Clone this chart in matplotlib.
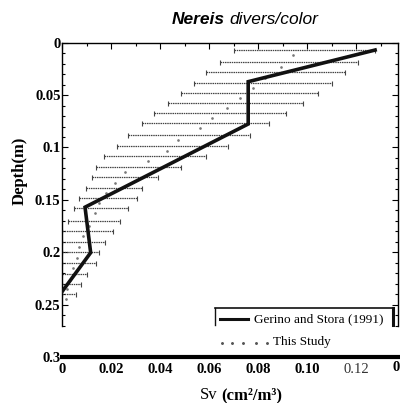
import matplotlib
matplotlib.use("Agg")
import matplotlib.pyplot as plt
from matplotlib.ticker import MultipleLocator, FixedLocator
import numpy as np

# ---- data ----
# Gerino and Stora (1991) profile
gs_sv = [0.1278, 0.0760, 0.0760, 0.0094, 0.0117, 0.0]
gs_depth = [0.007, 0.0372, 0.0776, 0.157, 0.2004, 0.2377]

# This Study: row depths, left / right ends of ranges, and mean markers
ts_depth = [0.007, 0.0181, 0.0283, 0.0382, 0.0477, 0.0573, 0.0668, 0.0764,
            0.0881, 0.0986, 0.1082, 0.1184, 0.1285, 0.1384, 0.1479, 0.1575,
            0.1701, 0.1794, 0.1899, 0.2001, 0.2100, 0.2211, 0.2303, 0.2399]
ts_low = [0.0702, 0.0645, 0.0588, 0.0540, 0.0484, 0.0434, 0.0377, 0.0325,
          0.0271, 0.0223, 0.0173, 0.0139, 0.0124, 0.0097, 0.0069, 0.0049,
          0.0026, 0.0, 0.0, 0.0, 0.0, 0.0, 0.0, 0.0]
ts_high = [0.1278, 0.1210, 0.1155, 0.1103, 0.1044, 0.0985, 0.0914, 0.0846,
           0.0767, 0.0679, 0.0588, 0.0484, 0.0393, 0.0325, 0.0307, 0.0271,
           0.0237, 0.0210, 0.0176, 0.0152, 0.0137, 0.0101, 0.0076, 0.0056]
ts_mean = [0.0943, 0.0893, 0.0830, 0.0781, 0.0727, 0.0672, 0.0611, 0.0563,
           0.0475, 0.0427, 0.0352, 0.0257, 0.0216, 0.0180, 0.0150, 0.0135,
           0.0110, 0.0087, 0.0070, 0.0060, 0.0046, 0.0033, 0.0020, 0.0015]

x_ticks = [0, 0.02, 0.04, 0.06, 0.08, 0.10, 0.12]
x_labels = ["0", "0.02", "0.04", "0.06", "0.08", "0.10", "0.12"]
y_ticks = [0, 0.05, 0.1, 0.15, 0.2, 0.25, 0.3]
y_labels = ["0", "0.05", "0.1", "0.15", "0.2", "0.25", "0.3"]

serif = ["Liberation Serif", "DejaVu Serif"]
sans = ["Liberation Sans", "DejaVu Sans"]

fig = plt.figure(figsize=(4.0, 4.03), dpi=100)
ax = fig.add_axes([62/400, 1-357/403, (398-62)/400, (357-42.7)/403])

# This Study ranges
ts_mean_a = np.array(ts_mean)
ts_depth_a = np.array(ts_depth)
err = ax.errorbar(ts_mean_a, ts_depth_a,
                  xerr=[ts_mean_a - np.array(ts_low), np.array(ts_high) - ts_mean_a],
                  fmt='none', ecolor='#444444', elinewidth=0.9, capsize=1.8,
                  capthick=0.8, zorder=2)
for lc in err[2]:
    lc.set_linestyle((0, (1.2, 0.6)))
ax.plot(ts_mean_a, ts_depth_a + 0.005, linestyle='none', marker='.',
        markersize=1.8, color='#777777', zorder=2)

# Gerino and Stora
ax.plot(gs_sv, gs_depth, color='#111111', linewidth=2.6, zorder=3,
        solid_joinstyle='miter')

ax.set_xlim(0, (398-62)/2450)
ax.set_ylim(0.3, 0)

# spines
for s in ['left', 'right']:
    ax.spines[s].set_bounds(0, 0.27)
    ax.spines[s].set_linewidth(1.0)
ax.spines['top'].set_linewidth(1.0)
ax.spines['bottom'].set_linewidth(3.0)

ax.xaxis.set_major_locator(FixedLocator(x_ticks))
ax.set_xticklabels(x_labels)
ax.xaxis.set_minor_locator(MultipleLocator(0.01))
ax.yaxis.set_major_locator(FixedLocator(y_ticks))
ax.set_yticklabels(y_labels)
ax.yaxis.set_minor_locator(FixedLocator([i*0.01 for i in range(28)]))

ax.tick_params(axis='x', which='both', top=True, bottom=False, direction='in',
               labelbottom=True, pad=4)
ax.tick_params(axis='x', which='major', length=4, width=0.8)
ax.tick_params(axis='x', which='minor', length=2.5, width=0.8)
ax.tick_params(axis='y', which='both', left=True, right=True, direction='in', pad=1)
ax.tick_params(axis='y', which='major', length=4, width=0.8)
ax.tick_params(axis='y', which='minor', length=2.5, width=0.8)
yt = ax.yaxis.get_major_ticks()[-1]
yt.tick1line.set_visible(False)
yt.tick2line.set_visible(False)

for lab in ax.get_xticklabels():
    lab.set_fontfamily(serif)
    lab.set_fontweight('bold')
    lab.set_fontsize(10.5)
for lab in ax.get_yticklabels():
    lab.set_fontfamily(serif)
    lab.set_fontweight('bold')
    lab.set_fontsize(10.5)
ax.get_xticklabels()[6].set_fontweight('normal')
ax.get_xticklabels()[6].set_color('#333333')

# partially visible 0.14 label at the cut edge (as in the scanned reference)
ax.text(0.14, -4/314.3, "0.14", transform=ax.get_xaxis_transform(), ha='center',
        va='top', fontfamily=serif, fontweight='bold', fontsize=10.5, clip_on=False)

# title: bold-italic genus + italic species
t1 = fig.text(172/400, 1-20/403, "Nereis", fontfamily=sans,
              fontstyle='italic', fontweight='bold', fontsize=12.5,
              ha='left', va='center')
fig.canvas.draw()
bb = t1.get_window_extent()
fig.text(bb.x1/400 + 4/400, 1-20/403, "divers/color", fontfamily=sans,
         fontstyle='italic', fontsize=12.5, ha='left', va='center')

# axis labels
fig.text(20/400, 1-171/403, "Depth(m)", rotation=90, fontfamily=serif,
         fontweight='bold', fontsize=12, ha='center', va='center')
t2 = fig.text(200/400, 1-395/403, "Sv", fontfamily=serif, fontsize=12,
              ha='left', va='center')
fig.canvas.draw()
bb2 = t2.get_window_extent()
fig.text(bb2.x1/400 + 4/400, 1-395/403, "(cm²/m³)", fontfamily=serif,
         fontweight='bold', fontsize=12, ha='left', va='center')

# legend (manual, partially cut box as in the scan)
def fx(px):
    return px/400
def fy(py):
    return 1 - py/403
fig.add_artist(plt.Line2D([fx(215), fx(393)], [fy(308), fy(308)], color='#111111', lw=1.2))
fig.add_artist(plt.Line2D([fx(215), fx(215)], [fy(308), fy(325)], color='#111111', lw=1.0))
fig.add_artist(plt.Line2D([fx(393), fx(393)], [fy(308), fy(325)], color='#111111', lw=2.2))
fig.add_artist(plt.Line2D([fx(220), fx(248)], [fy(319), fy(319)], color='#111111', lw=2.2))
fig.text(fx(254), fy(319), "Gerino and Stora (1991)", fontfamily=serif, fontsize=9.5,
         ha='left', va='center')
fig.add_artist(plt.Line2D([fx(222), fx(232), fx(243), fx(256), fx(267)],
                          [fy(343)]*5, linestyle='none', marker='.', markersize=2.2,
                          color='#555555'))
fig.text(fx(273), fy(342), "This Study", fontfamily=serif, fontsize=9.5,
         ha='left', va='center')

fig.savefig("out.png", dpi=100)
